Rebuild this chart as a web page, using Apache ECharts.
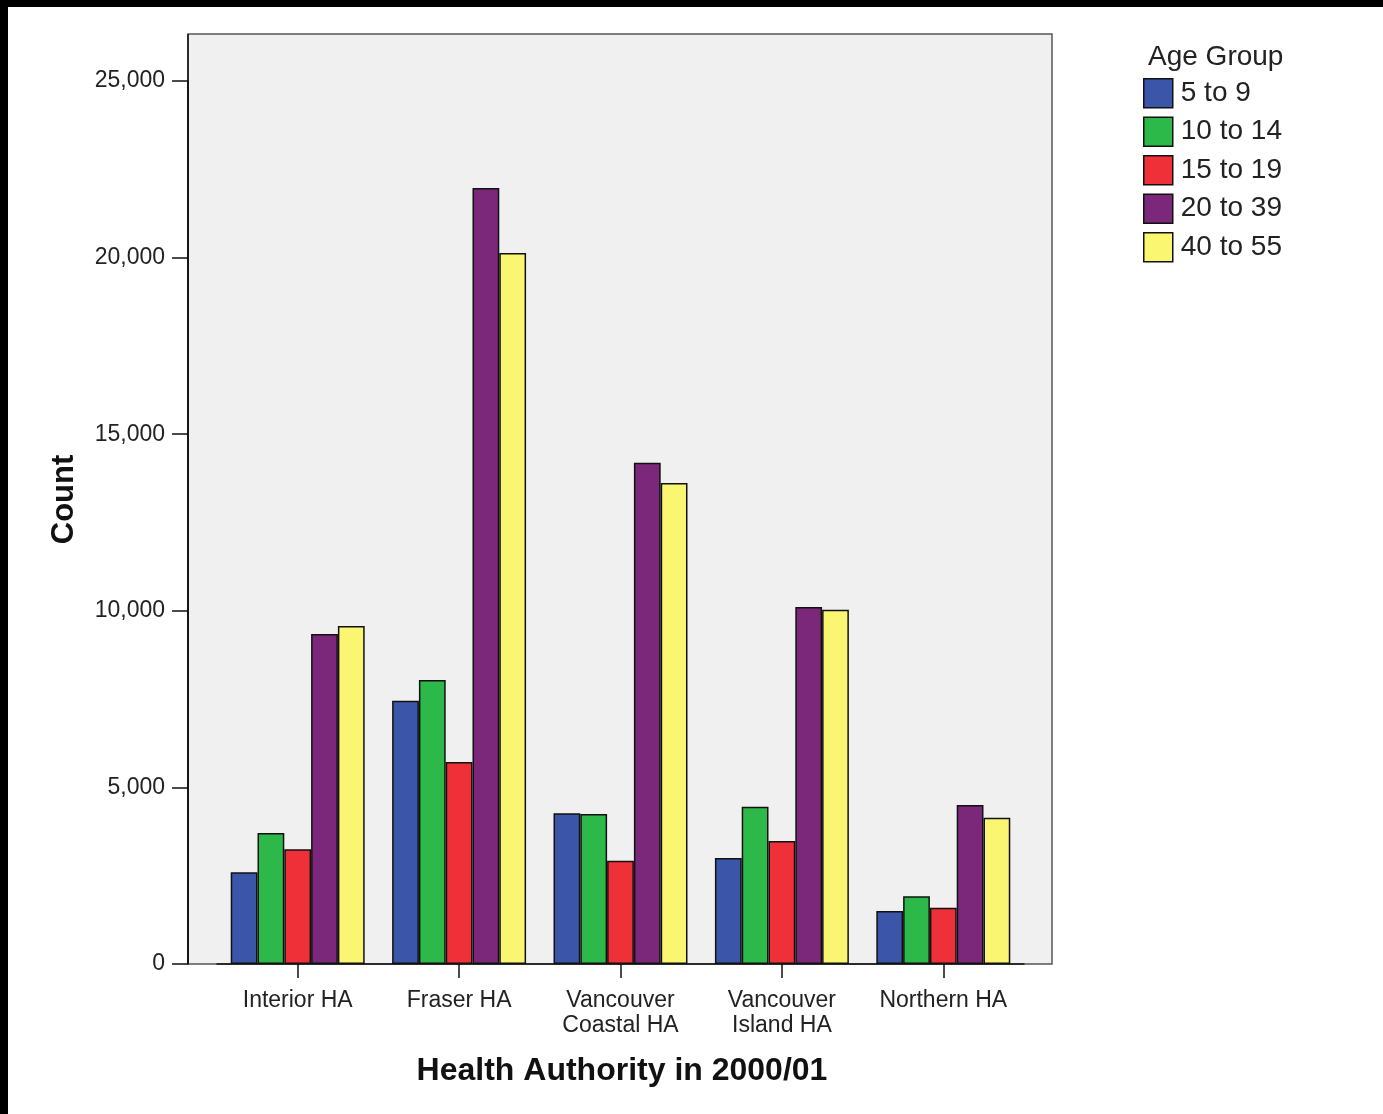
<!DOCTYPE html>
<html>
<head>
<meta charset="utf-8">
<script src="https://cdn.jsdelivr.net/npm/echarts@6/dist/echarts.min.js"></script>
<style>
html,body{margin:0;padding:0;background:#fff;}
#chart{width:1383px;height:1114px;}
</style>
</head>
<body>
<div id="chart"></div>
<script>
const categories = ['Interior HA', 'Fraser HA', 'Vancouver\nCoastal HA', 'Vancouver\nIsland HA', 'Northern HA'];
const ageGroups = ['5 to 9', '10 to 14', '15 to 19', '20 to 39', '40 to 55'];
const age5to9   = [2600, 7450, 4270, 3000, 1500];
const age10to14 = [3710, 8040, 4250, 4450, 1920];
const age15to19 = [3250, 5720, 2920, 3480, 1590];
const age20to39 = [9340, 21970, 14190, 10110, 4500];
const age40to55 = [9570, 20130, 13620, 10030, 4140];
const yTicks = [0, 5000, 10000, 15000, 20000, 25000];
const colors = ['#3b55a8', '#2db84a', '#ef3038', '#7b287b', '#fbf671'];

const seriesValues = [age5to9, age10to14, age15to19, age20to39, age40to55];

const chart = echarts.init(document.getElementById('chart'), null, {renderer: 'canvas'});
const font = 'Liberation Sans, Arial, sans-serif';

chart.setOption({
  backgroundColor: '#ffffff',
  animation: false,
  title: {
    text: 'Age Group',
    left: 1143, top: 38,
    textStyle: {fontFamily: font, fontSize: 28, fontWeight: 'normal', color: '#222'}
  },
  legend: {
    orient: 'vertical',
    left: 1143, top: 78,
    itemWidth: 29, itemHeight: 29,
    itemGap: 8,
    icon: 'rect',
    padding: 0,
    itemStyle: {borderColor: '#111', borderWidth: 1.5},
    textStyle: {fontFamily: font, fontSize: 28, color: '#222', padding: [0, 0, 0, 3]},
    data: ageGroups
  },
  graphic: [
    {type: 'rect', z: -10, shape: {x: 188, y: 34, width: 864, height: 930},
     style: {fill: '#f0f0f0', stroke: '#555', lineWidth: 1.5}},
    {type: 'line', z: -5, shape: {x1: 188, y1: 34, x2: 188, y2: 964},
     style: {stroke: '#111', lineWidth: 1.5}},
    {type: 'rect', z: 100, shape: {x: 0, y: 0, width: 1383, height: 7}, style: {fill: '#000'}},
    {type: 'rect', z: 100, shape: {x: 0, y: 0, width: 8, height: 1114}, style: {fill: '#000'}}
  ],
  grid: {left: 217, right: 359, top: 81, bottom: 150, containLabel: false},
  xAxis: {
    type: 'category',
    data: categories,
    name: 'Health Authority in 2000/01',
    nameLocation: 'middle',
    nameGap: 91,
    nameTextStyle: {fontFamily: font, fontSize: 32, fontWeight: 'bold', color: '#111', padding: [0, 0, 0, 3]},
    axisLine: {show: true, lineStyle: {color: '#111', width: 1.5}},
    axisTick: {show: true, alignWithLabel: true, length: 14, lineStyle: {color: '#111', width: 1.5}},
    axisLabel: {fontFamily: font, fontSize: 23, color: '#222', margin: 24, lineHeight: 25, interval: 0}
  },
  yAxis: {
    type: 'value',
    min: 0, max: 25000, interval: 5000,
    offset: 29,
    name: 'Count',
    nameLocation: 'middle',
    nameRotate: 90,
    nameGap: 108,
    nameTextStyle: {fontFamily: font, fontSize: 31, fontWeight: 'bold', color: '#111', padding: [0, 0, 0, 46]},
    splitLine: {show: false},
    axisLine: {show: true, lineStyle: {color: '#111', width: 1.5}},
    axisTick: {show: true, length: 16, lineStyle: {color: '#111', width: 1.5}},
    axisLabel: {
      fontFamily: font, fontSize: 23, color: '#222', margin: 23,
      customValues: yTicks,
      formatter: v => v.toLocaleString('en-US')
    }
  },
  series: ageGroups.map((name, i) => ({
    name: name,
    type: 'bar',
    data: seriesValues[i],
    barGap: '0%',
    barCategoryGap: '17%',
    itemStyle: {color: colors[i], borderColor: '#111', borderWidth: 1.5}
  }))
});
</script>
</body>
</html>
